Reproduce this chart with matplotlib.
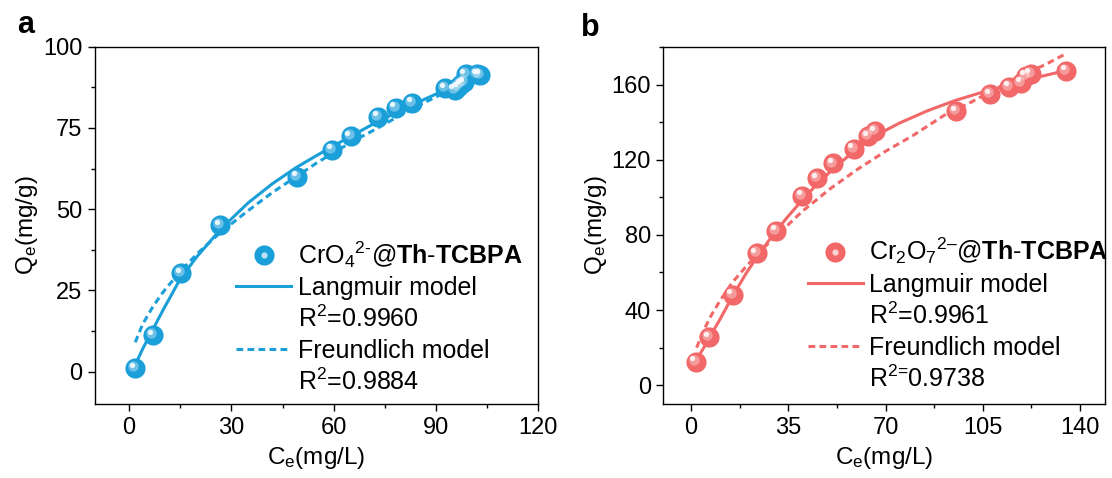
import matplotlib
matplotlib.use('Agg')
import matplotlib.pyplot as plt
from matplotlib import transforms
from matplotlib.lines import Line2D
from matplotlib.legend_handler import HandlerTuple
from matplotlib.ticker import MultipleLocator

plt.rcParams['font.family'] = ['Liberation Sans', 'DejaVu Sans']
plt.rcParams['mathtext.fontset'] = 'custom'
plt.rcParams['mathtext.rm'] = 'Liberation Sans'
plt.rcParams['mathtext.it'] = 'Liberation Sans:italic'
plt.rcParams['mathtext.bf'] = 'Liberation Sans:bold'

# ---- panel a : CrO4 2- ----
ce_a = [1.8, 7.1, 15.2, 26.7, 49.2, 59.6, 65.0, 73.1, 78.2, 83.0, 92.7, 95.5, 96.5, 97.3, 98.2, 98.7, 102.0, 103.0]
qe_a = [1.0, 11.2, 30.2, 45.1, 60.0, 68.3, 72.4, 78.5, 81.2, 82.8, 87.3, 86.8, 87.6, 88.4, 89.0, 91.5, 91.6, 91.4]

# fitted curves
c_lang_a = [1.8, 4, 7, 10, 15, 20, 27, 35, 42, 49, 55, 60, 66, 73, 80, 87, 94, 100, 103]
q_lang_a = [2.0, 7.0, 13.0, 19.0, 28.5, 35.5, 44.0, 52.0, 57.8, 62.8, 66.5, 69.5, 73.0, 77.0, 80.5, 84.0, 87.3, 90.0, 91.5]
c_freu_a = [1.8, 4, 7, 10, 15, 20, 27, 35, 42, 49, 55, 60, 66, 73, 80, 87, 94, 100, 103]
q_freu_a = [9.0, 14.6, 20.0, 24.5, 30.8, 36.3, 43.0, 49.6, 55.1, 60.0, 64.2, 67.4, 71.1, 75.0, 79.2, 83.0, 86.6, 90.0, 91.6]

# ---- panel b : Cr2O7 2- ----
ce_b = [1.6, 6.5, 15.0, 23.6, 30.7, 39.9, 45.3, 51.1, 58.5, 63.7, 66.2, 95.5, 107.7, 114.5, 118.8, 120.5, 122.2, 135.0]
qe_b = [12.5, 25.6, 48.1, 70.2, 82.2, 100.8, 110.3, 118.0, 125.8, 132.6, 135.3, 145.8, 154.8, 158.8, 161.0, 164.7, 165.8, 167.4]

c_lang_b = [2.5, 5, 7, 10, 15, 20, 25, 30, 35, 40, 45, 50, 55, 60, 66, 75, 85, 95, 105, 115, 125, 135]
q_lang_b = [15.0, 21.0, 26.5, 34.0, 47.5, 60.0, 71.0, 81.0, 90.0, 98.5, 106.5, 113.5, 120.0, 126.0, 132.5, 139.5, 146.0, 151.5, 156.0, 160.0, 164.0, 167.5]
c_freu_b = [2, 4, 7, 10, 15, 20, 25, 30, 40, 50, 60, 70, 80, 92, 100, 110, 120, 128, 135]
q_freu_b = [20.0, 27.5, 36.5, 44.0, 55.0, 63.5, 71.5, 78.5, 92.5, 104.5, 115.0, 124.5, 133.0, 144.5, 150.0, 158.0, 165.5, 171.0, 176.5]

labels_a = [r'CrO$_4$$^{2\text{-}}$@$\mathbf{Th}$-$\mathbf{TCBPA}$', 'Langmuir model', r'R$^2$=0.9960',
            'Freundlich model', r'R$^2$=0.9884']
labels_b = [r'Cr$_2$O$_7$$^{2\text{–}}$@$\mathbf{Th}$-$\mathbf{TCBPA}$', 'Langmuir model', r'R$^2$=0.9961',
            'Freundlich model', r'R$^{2\text{=}}$0.9738']

blue = '#1b9fd9'
red = '#f26767'


def draw_panel(ax, ce, qe, c_lang, q_lang, c_freu, q_freu, color, labels, leg_xy):
    ax.plot(c_lang, q_lang, '-', color=color, lw=2.2, zorder=2)
    ax.plot(c_freu, q_freu, '--', color=color, lw=2.2, dashes=(2.2, 1.4), zorder=2)
    # sphere-like markers: base + lighter highlight shifted up-left
    ax.plot(ce, qe, 'o', ls='none', ms=14.5, color=color, mec='none', zorder=3)
    fig = ax.figure
    hl1 = transforms.offset_copy(ax.transData, fig=fig, x=-1.4, y=1.4, units='points')
    hl2 = transforms.offset_copy(ax.transData, fig=fig, x=-2.4, y=2.4, units='points')
    ax.plot(ce, qe, 'o', ls='none', ms=7.5, color='white', alpha=0.35, mec='none', transform=hl1, zorder=4)
    ax.plot(ce, qe, 'o', ls='none', ms=3.8, color='white', alpha=0.85, mec='none', transform=hl2, zorder=5)

    h_pt = (Line2D([], [], ls='none', marker='o', ms=14.5, color=color, mec='none'),
            Line2D([], [], ls='none', marker='o', ms=4.5, color='white', alpha=0.7, mec='none'))
    h_lang = Line2D([], [], color=color, lw=2.2)
    h_freu = Line2D([], [], color=color, lw=2.2, ls='--', dashes=(2.2, 1.4))
    blank = Line2D([], [], ls='none')
    ax.legend([h_pt, h_lang, blank, h_freu, blank], labels,
              handler_map={tuple: HandlerTuple(ndivide=1, pad=0)},
              loc='upper left', bbox_to_anchor=leg_xy, frameon=False, fontsize=18,
              handlelength=2.2, handletextpad=0.25, labelspacing=0.25,
              borderpad=0, borderaxespad=0)

    ax.set_xlabel(r'C$_\mathrm{e}$(mg/L)', fontsize=17.5, labelpad=5)
    ax.set_ylabel(r'Q$_\mathrm{e}$(mg/g)', fontsize=17.5, labelpad=2)
    ax.tick_params(which='both', direction='out', top=False, right=False, width=1.0, labelsize=17, pad=4)
    ax.tick_params(which='major', length=5)
    ax.tick_params(which='minor', length=3)
    for s in ax.spines.values():
        s.set_linewidth(1.0)


fig = plt.figure(figsize=(11.12, 4.78), dpi=100)

ax1 = fig.add_axes([0.0854, 0.1548, 0.3987, 0.7475])
draw_panel(ax1, ce_a, qe_a, c_lang_a, q_lang_a, c_freu_a, q_freu_a, blue, labels_a, (0.319, 0.462))
ax1.set_xlim(-10, 120)
ax1.set_ylim(-10, 100)
ax1.xaxis.set_major_locator(MultipleLocator(30))
ax1.xaxis.set_minor_locator(MultipleLocator(15))
ax1.yaxis.set_major_locator(MultipleLocator(25))
ax1.yaxis.set_minor_locator(MultipleLocator(12.5))

ax2 = fig.add_axes([0.5965, 0.1548, 0.3972, 0.7469])
draw_panel(ax2, ce_b, qe_b, c_lang_b, q_lang_b, c_freu_b, q_freu_b, red, labels_b, (0.327, 0.471))
ax2.set_xlim(-10, 149)
ax2.set_ylim(-10, 180)
ax2.xaxis.set_major_locator(MultipleLocator(35))
ax2.xaxis.set_minor_locator(MultipleLocator(17.5))
ax2.yaxis.set_major_locator(MultipleLocator(40))
ax2.yaxis.set_minor_locator(MultipleLocator(20))

fig.text(17 / 1112, 1 - 33 / 478, 'a', fontsize=22, fontweight='bold', va='baseline')
fig.text(581 / 1112, 1 - 36 / 478, 'b', fontsize=22, fontweight='bold', va='baseline')

fig.savefig('out.png', dpi=100)
